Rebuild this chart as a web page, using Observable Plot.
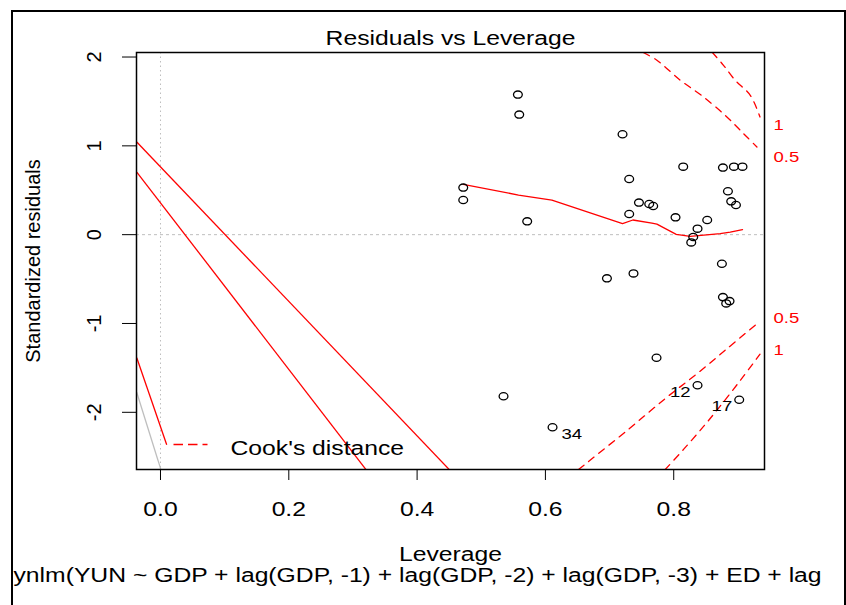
<!DOCTYPE html>
<html>
<head>
<meta charset="utf-8">
<script src="https://cdn.jsdelivr.net/npm/d3@7"></script>
<script src="https://cdn.jsdelivr.net/npm/@observablehq/plot@0.6"></script>
<style>
  html, body { margin: 0; padding: 0; background: #fff; }
  #wrap { position: relative; width: 846px; height: 605px; overflow: hidden; }
  #outer { position: absolute; left: 11px; top: 10px; width: 831px; height: 700px;
           border-left: 2px solid #000; border-top: 2px solid #000; border-right: 2px solid #000;
           pointer-events: none; }
</style>
</head>
<body>
<div id="wrap"><div id="outer"></div></div>
<script>
// ---- data ----
const leverage = [0.5571,0.5592,0.7202,0.4719,0.4719,0.7306,0.5716,0.8148,0.8767,0.8938,0.9072,0.8845,0.8896,0.8970,0.7458,0.7618,0.7680,0.7306,0.8028,0.8522,0.8371,0.8304,0.8273,0.8751,0.7373,0.6959,0.8767,0.8870,0.8818,0.7732,0.8371,0.9021,0.5347,0.6111];
const stdResid = [1.577,1.352,1.130,0.530,0.390,0.626,0.150,0.766,0.755,0.766,0.766,0.488,0.375,0.334,0.361,0.345,0.322,0.232,0.195,0.165,0.068,-0.027,-0.087,-0.327,-0.436,-0.492,-0.703,-0.748,-0.774,-1.386,-1.695,-1.859,-1.819,-2.168];
const idIndex = [30, 31, 33];
const idText = ["12", "17", "34"];
const idSide = ["left", "left", "right"];

const smoothX = [0.4719,0.5581,0.6101,0.7202,0.7364,0.7660,0.7738,0.8039,0.8257,0.8725,0.8881,0.9072];
const smoothY = [0.567,0.446,0.390,0.124,0.165,0.131,0.119,0.003,-0.019,0.011,0.029,0.056];

const cookUp05X = [0.7525,0.7738,0.8102,0.8465,0.8829,0.9088,0.9297];
const cookUp05Y = [2.051,1.964,1.739,1.550,1.325,1.138,0.987];
const cookUp1X = [0.8600,0.8776,0.8959,0.9193,0.9345];
const cookUp1Y = [2.054,1.907,1.738,1.569,1.325];
const cookLo05X = [0.6516,0.7270,0.7894,0.8362,0.8829,0.9297];
const cookLo05Y = [-2.644,-2.206,-1.830,-1.566,-1.285,-1.003];
const cookLo1X = [0.7867,0.8153,0.8465,0.8700,0.9037,0.9345];
const cookLo1Y = [-2.644,-2.418,-2.159,-1.952,-1.642,-1.346];

const cookLabels = ["1", "0.5", "0.5", "1"];
const cookLabelY = [1.269, 0.901, -0.901, -1.269];

// straight segments seen in the picture
const segX1 = [-0.0370, -0.0370, -0.0370];
const segY1 = [1.043, 0.705, -1.386];
const segX2 = [0.4500, 0.3202, 0.0097];
const segY2 = [-2.644, -2.644, -2.366];
const greyX1 = [-0.0371], greyY1 = [-1.774], greyX2 = [0.0003], greyY2 = [-2.637];

const xTicks = [0, 0.2, 0.4, 0.6, 0.8];
const yTicks = [-2, -1, 0, 1, 2];
const xDomain = [-0.0374, 0.9415];
const yDomain = [-2.644, 2.051];

const title = "Residuals vs Leverage";
const xLabel = "Leverage";
const yLabel = "Standardized residuals";
const caption = "ynlm(YUN ~ GDP + lag(GDP, -1) + lag(GDP, -2) + lag(GDP, -3) + ED + lag";
const legendText = "Cook's distance";

// ---- build ----
const pts = leverage.map((x, i) => ({x, y: stdResid[i]}));
const ids = idIndex.map((k, j) => ({x: leverage[k], y: stdResid[k], t: idText[j], side: idSide[j]}));
const toPts = (xs, ys) => xs.map((x, i) => ({x, y: ys[i]}));
const segs = segX1.map((x, i) => ({x1: x, y1: segY1[i], x2: segX2[i], y2: segY2[i]}));
const greys = greyX1.map((x, i) => ({x1: x, y1: greyY1[i], x2: greyX2[i], y2: greyY2[i]}));

const ellipse = {
  draw(ctx) {
    const a = 4.4, b = 3.6, k = 0.5523;
    ctx.moveTo(a, 0);
    ctx.bezierCurveTo(a, k * b, k * a, b, 0, b);
    ctx.bezierCurveTo(-k * a, b, -a, k * b, -a, 0);
    ctx.bezierCurveTo(-a, -k * b, -k * a, -b, 0, -b);
    ctx.bezierCurveTo(k * a, -b, a, -k * b, a, 0);
    ctx.closePath();
  }
};
const hline = { draw(ctx) { ctx.moveTo(-17, 0); ctx.lineTo(17, 0); } };

const red = "#ff0000";
const dash = "7,6";

const chart = Plot.plot({
  width: 846,
  height: 605,
  marginLeft: 136,
  marginRight: 82,
  marginTop: 52,
  marginBottom: 136,
  style: {fontFamily: "'Liberation Sans', Arial, sans-serif", fontSize: "20px", background: "transparent", color: "#000"},
  x: {domain: xDomain, ticks: xTicks, tickFormat: d3.format(".1f"), tickSize: 11, tickPadding: 21, label: null},
  y: {domain: yDomain, ticks: yTicks, tickFormat: () => "", tickSize: 14, tickPadding: 0, label: null},
  marks: [
    Plot.ruleX([0], {stroke: "#bebebe", strokeDasharray: "1.5,3"}),
    Plot.ruleY([0], {stroke: "#bebebe", strokeDasharray: "3,3"}),
    Plot.link(greys, {x1: "x1", y1: "y1", x2: "x2", y2: "y2", stroke: "#bebebe", strokeWidth: 1.3, clip: true}),
    Plot.link(segs, {x1: "x1", y1: "y1", x2: "x2", y2: "y2", stroke: red, strokeWidth: 1.3, clip: true}),
    Plot.line(toPts(cookUp05X, cookUp05Y), {x: "x", y: "y", stroke: red, strokeWidth: 1.3, strokeDasharray: dash, curve: "catmull-rom", clip: true}),
    Plot.line(toPts(cookUp1X, cookUp1Y), {x: "x", y: "y", stroke: red, strokeWidth: 1.3, strokeDasharray: dash, curve: "catmull-rom", clip: true}),
    Plot.line(toPts(cookLo05X, cookLo05Y), {x: "x", y: "y", stroke: red, strokeWidth: 1.3, strokeDasharray: dash, curve: "catmull-rom", clip: true}),
    Plot.line(toPts(cookLo1X, cookLo1Y), {x: "x", y: "y", stroke: red, strokeWidth: 1.3, strokeDasharray: dash, curve: "catmull-rom", clip: true}),
    Plot.line(toPts(smoothX, smoothY), {x: "x", y: "y", stroke: red, strokeWidth: 1.3}),
    Plot.dot(pts, {x: "x", y: "y", symbol: ellipse, stroke: "#000", strokeWidth: 1.3, fill: "none"}),
    Plot.text(ids.filter(d => d.side === "left"), {x: "x", y: "y", text: "t", textAnchor: "end", lineAnchor: "middle", dx: -7, dy: 6.5, fontSize: 15}),
    Plot.text(ids.filter(d => d.side === "right"), {x: "x", y: "y", text: "t", textAnchor: "start", lineAnchor: "middle", dx: 9, dy: 6.5, fontSize: 15}),
    Plot.text(cookLabels.map((t, i) => ({t, y: cookLabelY[i]})), {y: "y", text: "t", frameAnchor: "right", textAnchor: "start", lineAnchor: "middle", dx: 9, dy: 3, fill: red, fontSize: 15}),
    Plot.frame({stroke: "#000", strokeWidth: 1.5}),
    // y tick labels (rotated, as in R)
    Plot.text(yTicks, {y: d => d, text: d => String(d), frameAnchor: "left", textAnchor: "middle", lineAnchor: "middle", rotate: -90, dx: -42}),
    // titles
    Plot.text([title], {frameAnchor: "top", textAnchor: "middle", lineAnchor: "middle", dy: -14}),
    Plot.text([yLabel], {frameAnchor: "left", textAnchor: "middle", lineAnchor: "middle", rotate: -90, dx: -103}),
    Plot.text([xLabel], {frameAnchor: "bottom", textAnchor: "middle", lineAnchor: "middle", dy: 85}),
    Plot.text([caption], {frameAnchor: "bottom-left", textAnchor: "start", lineAnchor: "middle", dx: -123, dy: 106.5}),
    // legend
    Plot.dot([0], {frameAnchor: "bottom-left", dx: 54, dy: -25, symbol: hline, stroke: red, strokeWidth: 1.3, strokeDasharray: "9.5,5"}),
    Plot.text([legendText], {frameAnchor: "bottom-left", textAnchor: "start", lineAnchor: "middle", dx: 94, dy: -21.4})
  ]
});

const wrap = document.getElementById("wrap");
wrap.insertBefore(chart, wrap.firstChild);
chart.style.position = "absolute";
chart.style.left = "0px";
chart.style.top = "0px";

// the reference image is stretched horizontally (~1.23x): widen horizontal text to match
const STRETCH = 1.235;
for (const t of chart.querySelectorAll("text")) {
  const tr = (t.getAttribute("transform") || "");
  if (/rotate/.test(tr)) continue;
  const L = t.getComputedTextLength();
  if (L > 0) {
    t.setAttribute("textLength", (L * STRETCH).toFixed(2));
    t.setAttribute("lengthAdjust", "spacingAndGlyphs");
  }
}
</script>
</body>
</html>
